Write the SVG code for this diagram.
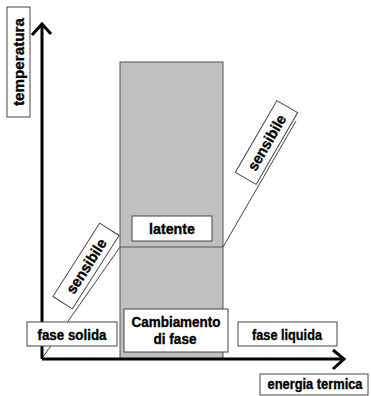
<svg xmlns="http://www.w3.org/2000/svg" width="371" height="396" viewBox="0 0 371 396">
<defs>
<style>
.box{fill:#fff;stroke:#444;stroke-width:1}
.t{font-family:"Liberation Sans",Arial,sans-serif;font-weight:bold;font-size:15px;fill:#000;stroke:#000;stroke-width:0.35;text-anchor:middle}
.ln{stroke:#444;stroke-width:1;fill:none}
.ax{stroke:#000;stroke-width:3;fill:none}
</style>
</defs>
<rect width="371" height="396" fill="#fff"/>
<g id="fase-cambio">
<rect x="120" y="62" width="103" height="297" fill="#c0c0c0" stroke="#555" stroke-width="1"/>
<line x1="120" y1="247" x2="223" y2="247" stroke="#555" stroke-width="1"/>
</g>
<g id="connectors">
<line class="ln" x1="43" y1="357" x2="120" y2="247"/>
<line class="ln" x1="223" y1="247" x2="296" y2="121"/>
<path class="ax" d="M42 359 V24"/>
<path class="ax" d="M32 35 L42 24 L51 34"/>
<path class="ax" d="M42 359 H344"/>
<path class="ax" d="M333 350 L344 359 L333 369"/>
</g>
<g id="temperatura">
<rect class="box" x="7" y="7" width="23" height="110"/>
<text class="t" transform="translate(24,62) rotate(-90)" textLength="88" lengthAdjust="spacingAndGlyphs">temperatura</text>
</g>
<g id="latente">
<rect class="box" x="132" y="216" width="80" height="25"/>
<text class="t" x="172" y="234" textLength="46" lengthAdjust="spacingAndGlyphs">latente</text>
</g>
<g id="sensibile-2">
<g transform="translate(266.5,142.5) rotate(-60)">
<rect class="box" x="-41.5" y="-12" width="83" height="24"/>
<text class="t" x="0" y="5.5" textLength="62" lengthAdjust="spacingAndGlyphs">sensibile</text>
</g>
</g>
<g id="sensibile-1">
<g transform="translate(86,266) rotate(-57.5)">
<rect class="box" x="-43.5" y="-11.5" width="87" height="23"/>
<text class="t" x="0" y="5.5" textLength="62" lengthAdjust="spacingAndGlyphs">sensibile</text>
</g>
</g>
<g id="fase-solida">
<rect class="box" x="27" y="322" width="90" height="24"/>
<text class="t" x="72" y="339.5" textLength="69" lengthAdjust="spacingAndGlyphs">fase solida</text>
</g>
<g id="cambiamento">
<rect class="box" x="124" y="309" width="104" height="43"/>
<text class="t" x="176" y="327" textLength="89" lengthAdjust="spacingAndGlyphs">Cambiamento</text>
<text class="t" x="175" y="344" textLength="43" lengthAdjust="spacingAndGlyphs">di fase</text>
</g>
<g id="fase-liquida">
<rect class="box" x="238" y="322" width="99" height="24"/>
<text class="t" x="287" y="339.5" textLength="70" lengthAdjust="spacingAndGlyphs">fase liquida</text>
</g>
<g id="energia-termica">
<rect class="box" x="260" y="374" width="108" height="21"/>
<text class="t" x="315" y="388.5" style="font-size:14px" textLength="95" lengthAdjust="spacingAndGlyphs">energia termica</text>
</g>
</svg>
